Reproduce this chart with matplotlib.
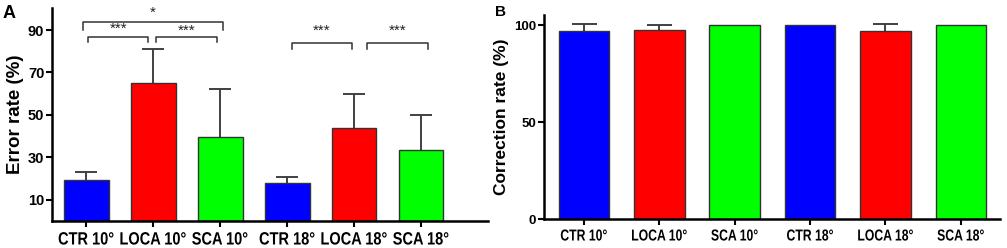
import matplotlib
matplotlib.use("Agg")
import matplotlib.pyplot as plt
from matplotlib.patheffects import AbstractPathEffect
from matplotlib.transforms import Affine2D
import numpy as np

categories = ["CTR 10°", "LOCA 10°", "SCA 10°", "CTR 18°", "LOCA 18°", "SCA 18°"]
bar_colors = ["#0000ff", "#ff0000", "#00ff00", "#0000ff", "#ff0000", "#00ff00"]

error_rate = [19.1, 65.2, 39.7, 17.7, 44.0, 33.5]
error_rate_sd = [4.2, 16.0, 22.6, 3.0, 16.0, 16.4]

correction_rate = [97.2, 97.9, 100.0, 100.0, 97.2, 100.0]
correction_rate_sd = [3.6, 2.3, 0.0, 0.0, 3.8, 0.0]

# significance brackets: (x_start, x_end, y_bar, y_end, label, label_y)
sig_pairs = [
    (-0.04, 2.04, 93.9, 90.0, "*", 98.0),
    (0.03, 0.93, 86.9, 84.2, "***", 90.5),
    (1.04, 1.96, 86.9, 84.2, "***", 89.5),
    (3.07, 3.97, 83.8, 81.0, "***", 89.5),
    (4.19, 5.10, 83.8, 81.0, "***", 89.5),
]

plt.rcParams['font.family'] = ['Liberation Sans', 'DejaVu Sans']
plt.rcParams['font.weight'] = 'bold'


class GlyphStretch(AbstractPathEffect):
    """Scale glyph height (about the baseline) without changing width."""
    def __init__(self, sy):
        super().__init__()
        self.sy = sy

    def draw_path(self, renderer, gc, tpath, affine, rgbFace=None):
        renderer.draw_path(gc, tpath, Affine2D().scale(1, self.sy) + affine, rgbFace)


W, H = 1007, 248
fig = plt.figure(figsize=(W / 100, H / 100), dpi=100)

def ax_rect(l, t, r, b):
    return [l / W, 1 - b / H, (r - l) / W, (b - t) / H]

edge = "#333333"
errc = "#404040"
x = np.arange(len(categories))


def upper_errorbars(ax, xs, vals, sds, capsize):
    xs = np.asarray(xs)
    vals = np.asarray(vals, dtype=float)
    sds = np.asarray(sds, dtype=float)
    m = sds > 0
    eb = ax.errorbar(xs[m], vals[m], yerr=[np.zeros(m.sum()), sds[m]], fmt='none',
                     ecolor=errc, elinewidth=1.4, capsize=capsize, capthick=1.4, zorder=1)
    # hide the cap sitting on the bar top; keep only the upper cap
    eb[1][0].set_visible(False)


# Panel A
axA = fig.add_axes(ax_rect(52, 8, 488, 221))
axA.bar(x, error_rate, width=0.67, color=bar_colors, edgecolor=edge, linewidth=1.0, zorder=2)
upper_errorbars(axA, x, error_rate, error_rate_sd, 8)
axA.set_ylim(0, 100.4)
axA.set_xlim(-0.51, 6.0)
axA.set_yticks([10, 30, 50, 70, 90])
axA.set_xticks(x)
axA.set_xticklabels(categories, fontsize=10.5, fontweight='bold')
axA.tick_params(axis='y', labelsize=10.5, width=1.5, length=4, pad=1.5)
axA.tick_params(axis='x', width=1.5, length=4, pad=5)
for lab in axA.get_xticklabels():
    lab.set_path_effects([GlyphStretch(1.22)])
for lab in axA.get_yticklabels():
    lab.set_fontweight('bold')
axA.set_ylabel("Error rate (%)", fontsize=13.5, fontweight='bold', labelpad=3)
for s in ['top', 'right']:
    axA.spines[s].set_visible(False)
for s in ['left', 'bottom']:
    axA.spines[s].set_linewidth(1.8)

for x0, x1, yb, ye, lab, ly in sig_pairs:
    axA.plot([x0, x0, x1, x1], [ye, yb, yb, ye], color="#333333", lw=1.1, clip_on=False)
    axA.text((x0 + x1) / 2, ly, lab, ha='center', va='center', fontsize=11,
             fontweight='normal', color="#222222", clip_on=False)

fig.text(3 / W, 1 - 14 / H, "A", fontsize=13, fontweight='bold', va='center', ha='left')

# Panel B
axB = fig.add_axes(ax_rect(544, 15, 1000, 219))
axB.bar(x, correction_rate, width=0.67, color=bar_colors, edgecolor=edge, linewidth=1.0, zorder=2)
upper_errorbars(axB, x, correction_rate, correction_rate_sd, 9)
axB.set_ylim(0, 105.4)
axB.set_xlim(-0.53, 5.52)
axB.set_yticks([0, 50, 100])
axB.set_xticks(x)
axB.set_xticklabels(categories, fontsize=8.8, fontweight='bold')
axB.tick_params(axis='y', labelsize=9.5, width=1.5, length=4, pad=1.5)
axB.tick_params(axis='x', width=1.5, length=4, pad=5)
for lab in axB.get_xticklabels():
    lab.set_path_effects([GlyphStretch(1.3)])
for lab in axB.get_yticklabels():
    lab.set_fontweight('bold')
axB.set_ylabel("Correction rate (%)", fontsize=12.5, fontweight='bold', labelpad=4)
for s in ['top', 'right']:
    axB.spines[s].set_visible(False)
for s in ['left', 'bottom']:
    axB.spines[s].set_linewidth(1.8)

fig.text(495 / W, 1 - 12 / H, "B", fontsize=11, fontweight='bold', va='center', ha='left')

fig.savefig("out.png", dpi=100)
